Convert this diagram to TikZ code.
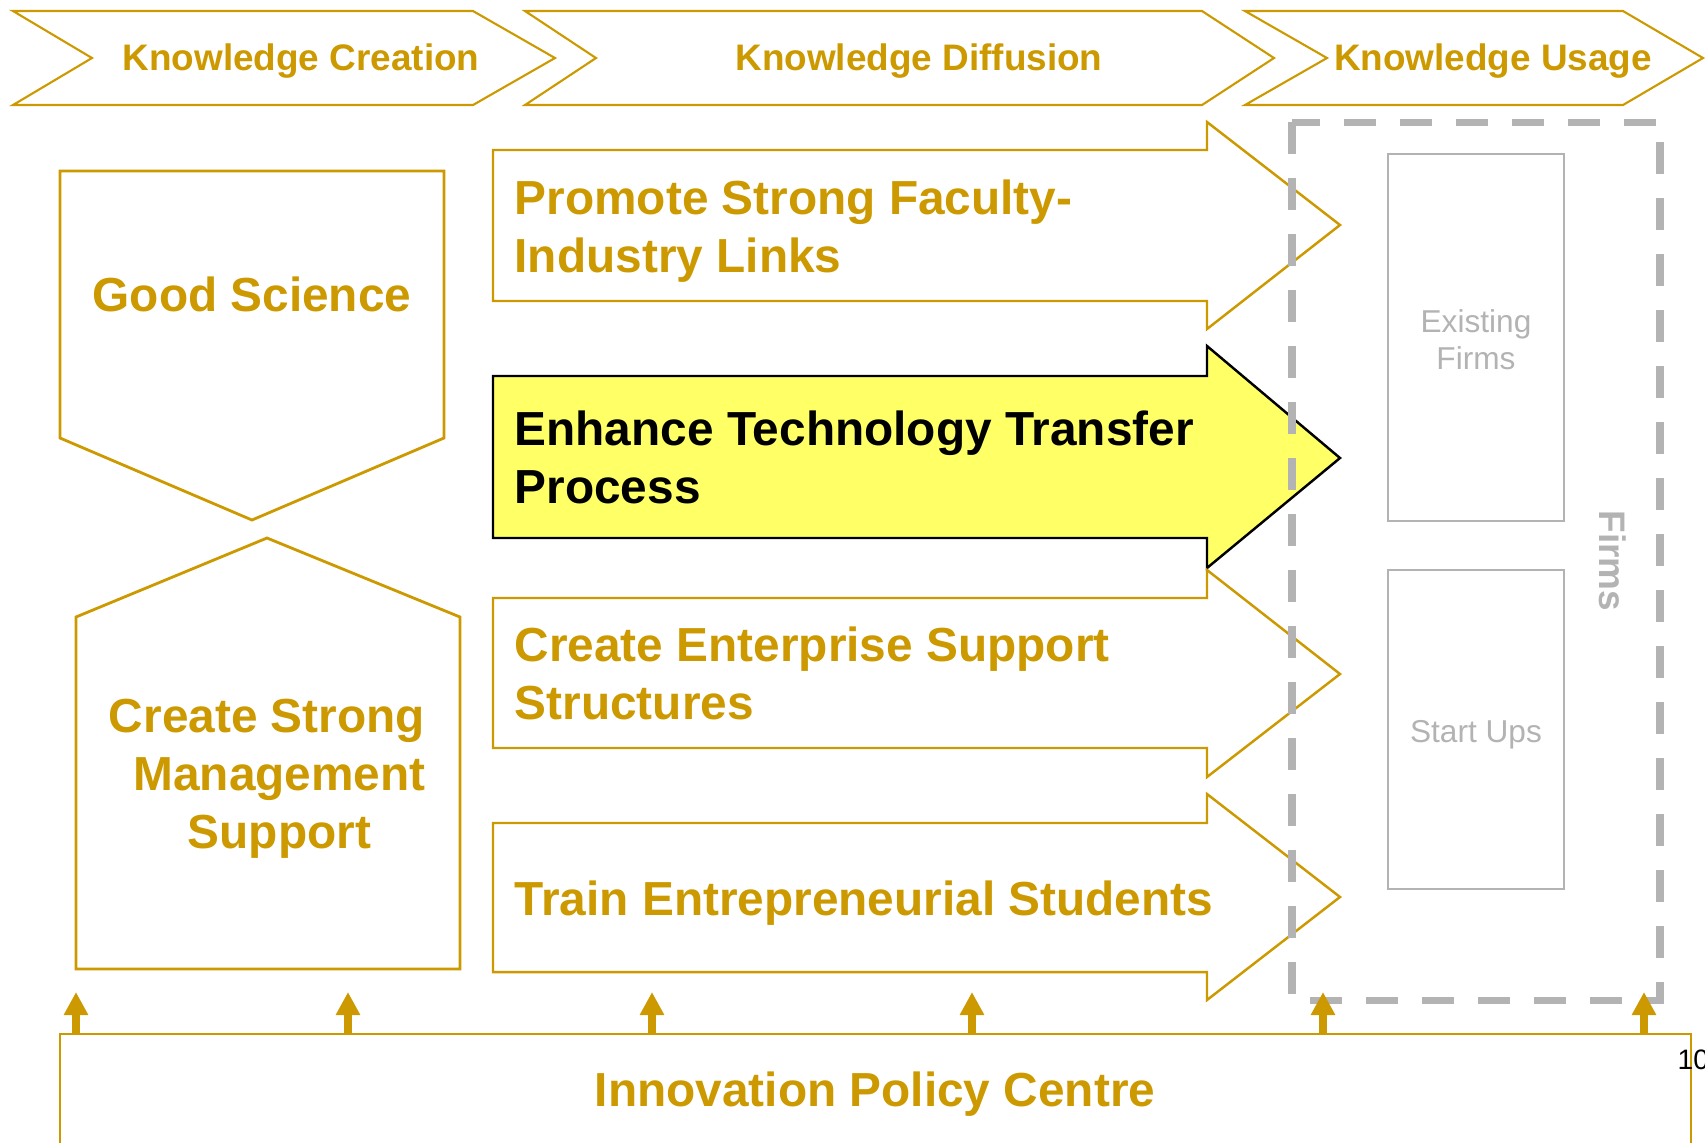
\documentclass[tikz,border=0pt]{standalone}
\usepackage{fontspec}
\setmainfont{Liberation Sans}
\usetikzlibrary{arrows.meta}
\definecolor{gold}{RGB}{204,153,0}
\definecolor{firmgray}{RGB}{179,179,179}
\definecolor{hilite}{RGB}{255,255,102}

\tikzset{
	phase/.style={draw=gold, line width=0.6pt},
	phasetext/.style={text=gold, font=\bfseries\fontsize{10.5}{12.6}\selectfont, inner sep=0pt},
	goldbox/.style={draw=gold, line width=0.8pt},
	bigtext/.style={text=gold, font=\bfseries\fontsize{13.6}{16.5}\selectfont, inner sep=0pt},
	firmbox/.style={draw=firmgray, line width=0.7pt},
	firmtext/.style={text=firmgray, font=\fontsize{9}{10.5}\selectfont, align=center, inner sep=0pt},
	push/.style={draw=gold, line width=2pt, -{Triangle[width=0.23cm, length=0.23cm]}}
}

\begin{document}
\begin{tikzpicture}
	\useasboundingbox (0,0) rectangle (17.05,-11.42);
	
	% phases along the top
	\draw[phase] (0.13,-0.11) -- (4.73,-0.11) -- (5.55,-0.58) -- (4.73,-1.05) -- (0.13,-1.05) -- (0.92,-0.58) -- cycle;
	\draw[phase] (5.25,-0.11) -- (12.02,-0.11) -- (12.74,-0.58) -- (12.02,-1.05) -- (5.25,-1.05) -- (5.96,-0.58) -- cycle;
	\draw[phase] (12.45,-0.11) -- (16.23,-0.11) -- (17.03,-0.58) -- (16.23,-1.05) -- (12.45,-1.05) -- (13.27,-0.58) -- cycle;
	\node[phasetext] (creation) at (3.01,-0.613) {Knowledge Creation};
	\node[phasetext] (diffusion) at (9.19,-0.613) {Knowledge Diffusion};
	\node[phasetext] (usage) at (14.93,-0.613) {Knowledge Usage};
	
	% left column
	\draw[goldbox] (0.60,-1.71) -- (4.44,-1.71) -- (4.44,-4.38) -- (2.52,-5.20) -- (0.60,-4.38) -- cycle;
	\node[bigtext] (science) at (2.52,-2.94) {Good Science};
	
	\draw[goldbox] (0.76,-9.69) -- (0.76,-6.17) -- (2.67,-5.38) -- (4.60,-6.17) -- (4.60,-9.69) -- cycle;
	\node[bigtext, align=center] (management) at (2.795,-7.784) {Create Strong\hspace*{0.25cm}\\Management\\Support};
	
	% diffusion arrows
	\draw[phase, line width=0.7pt] (4.93,-1.50) -- (12.07,-1.50) -- (12.07,-1.22) -- (13.40,-2.25) -- (12.07,-3.29) -- (12.07,-3.01) -- (4.93,-3.01) -- cycle;
	\node[bigtext, anchor=west, align=left] (links) at (5.14,-2.313) {Promote Strong Faculty-\\Industry Links};
	
	\draw[fill=hilite, draw=black, line width=0.7pt] (4.93,-3.76) -- (12.07,-3.76) -- (12.07,-3.46) -- (13.40,-4.58) -- (12.07,-5.68) -- (12.07,-5.38) -- (4.93,-5.38) -- cycle;
	\node[bigtext, text=black, anchor=west, align=left] (transfer) at (5.14,-4.578) {Enhance Technology Transfer\\Process};
	
	\draw[phase, line width=0.7pt] (4.93,-5.98) -- (12.07,-5.98) -- (12.07,-5.70) -- (13.40,-6.74) -- (12.07,-7.77) -- (12.07,-7.48) -- (4.93,-7.48) -- cycle;
	\node[bigtext, anchor=west, align=left] (enterprise) at (5.14,-6.738) {Create Enterprise Support\\Structures};
	
	\draw[phase, line width=0.7pt] (4.93,-8.23) -- (12.07,-8.23) -- (12.07,-7.94) -- (13.40,-8.97) -- (12.07,-10.00) -- (12.07,-9.72) -- (4.93,-9.72) -- cycle;
	\node[bigtext, anchor=west] (students) at (5.14,-9.033) {Train Entrepreneurial Students};
	
	% firms
	\draw[draw=firmgray, line width=2pt, dash pattern=on 0.32cm off 0.24cm] (12.92,-1.22) rectangle (16.60,-10.00);
	\draw[firmbox] (13.88,-1.54) rectangle (15.64,-5.21);
	\node[firmtext] (existing) at (14.76,-3.40) {Existing\\Firms};
	\draw[firmbox] (13.88,-5.70) rectangle (15.64,-8.89);
	\node[firmtext] (startups) at (14.76,-7.343) {Start Ups};
	\node[text=firmgray, font=\bfseries\fontsize{10.5}{12.6}\selectfont, rotate=-90, inner sep=0pt] (firms) at (16.13,-5.61) {Firms};
	
	% policy centre
	\draw[goldbox] (0.60,-11.60) -- (0.60,-10.34) -- (16.91,-10.34) -- (16.91,-11.60);
	\node[bigtext] (centre) at (8.75,-10.943) {Innovation Policy Centre};
	\foreach \x [count=\i] in {0.76,3.48,6.52,9.72,13.23,16.44} {
		\coordinate (base\i) at (\x,-10.34);
		\coordinate (aim\i) at (\x,-9.92);
		\draw[push] (base\i) -- (aim\i);
	}
	
	\node[anchor=base west, font=\fontsize{8}{9}\selectfont, inner sep=0pt] (page) at (16.77,-10.69) {10};
\end{tikzpicture}
\end{document}
